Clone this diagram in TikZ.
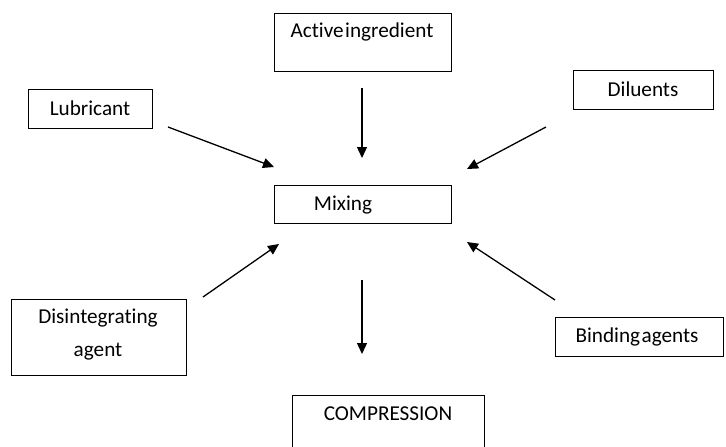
\documentclass[tikz,border=0pt]{standalone}
\usepackage{fontspec}
\setmainfont{Carlito}[Ligatures=NoCommon]
\usetikzlibrary{arrows.meta}
\begin{document}
\begin{tikzpicture}[x=1pt,y=-1pt,
  boxr/.style={draw=black,line width=1pt,rectangle},
  lbl/.style={inner sep=0pt,font=\fontsize{21.2}{25}\selectfont,text=black},
  arr/.style={line width=1.3pt,-{Triangle[length=11pt,width=10pt]}}]
\useasboundingbox (0,0) rectangle (726,447);
% boxes
\draw[boxr] (274,13) rectangle (451,71);
\draw[boxr] (28,89) rectangle (152,128);
\draw[boxr] (573,70) rectangle (713,109);
\draw[boxr] (274,185) rectangle (451,223);
\draw[boxr] (11,299) rectangle (186,375);
\draw[boxr] (555,317) rectangle (723,356);
\draw[boxr] (292,395) -- (484,395);
\draw[boxr] (292,395) -- (292,448);
\draw[boxr] (484,395) -- (484,448);
% labels
\node[lbl] (act) at (362,32) {Active\kern1.5pt ingredient};
\node[lbl] (lub) at (90,108) {Lubricant};
\node[lbl] (dil) at (643,89) {Diluents};
\node[lbl] (mix) at (343,205) {Mixing};
\node[lbl] (dis1) at (98,318) {Disintegrating};
\node[lbl] (dis2) at (98,352) {agent};
\node[lbl] (bin) at (637,337) {Binding\kern1.5pt agents};
\node[lbl] (comp) at (388,414) {COMPRESSION};
% arrow endpoints
\coordinate (a1) at (362,88);  \coordinate (a2) at (362,158);
\coordinate (l1) at (168,127); \coordinate (l2) at (274,167);
\coordinate (d1) at (546,127); \coordinate (d2) at (467,169);
\coordinate (i1) at (203,297); \coordinate (i2) at (279,244);
\coordinate (b1) at (555,300); \coordinate (b2) at (467,242);
\coordinate (m1) at (362,280); \coordinate (m2) at (362,354);
\draw[arr] (a1) -- (a2);
\draw[arr] (l1) -- (l2);
\draw[arr] (d1) -- (d2);
\draw[arr] (i1) -- (i2);
\draw[arr] (b1) -- (b2);
\draw[arr] (m1) -- (m2);
\end{tikzpicture}
\end{document}
